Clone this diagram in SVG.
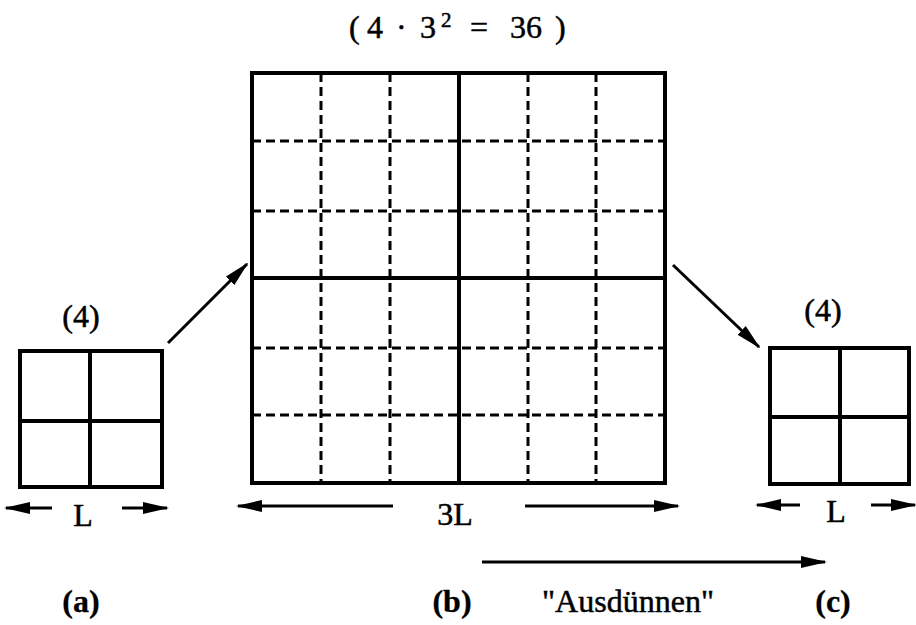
<svg xmlns="http://www.w3.org/2000/svg" width="916" height="625" viewBox="0 0 916 625">
<style>
text{font-family:"Liberation Serif","DejaVu Serif",serif;fill:#000;stroke:#000;stroke-width:0.5}
.lab{font-size:32px;text-anchor:middle}
.bold{font-weight:bold;stroke-width:0.3}
.box{fill:none;stroke:#000;stroke-width:4}
.solid{stroke:#000;stroke-width:4}
.dash{stroke:#000;stroke-width:3;stroke-dasharray:9,5}
.arr{stroke:#000;stroke-width:3;fill:none;marker-end:url(#ah)}
</style>
<defs>
<marker id="ah" viewBox="0 0 26 12" refX="24" refY="6" markerWidth="26" markerHeight="12" orient="auto" markerUnits="userSpaceOnUse">
<path d="M0,0 L26,6 L0,12 z" fill="#000"/>
</marker>
</defs>
<g id="title" font-size="32">
<text x="349" y="38">(</text>
<text x="367" y="38">4</text>
<text x="396" y="38">·</text>
<text x="420" y="38">3</text>
<text x="441" y="27" font-size="21">2</text>
<text x="470" y="38">=</text>
<text x="510" y="38">36</text>
<text x="555" y="38">)</text>
</g>
<g id="a">
<rect class="box" x="20" y="351" width="142" height="136"/>
<line class="solid" x1="90" y1="351" x2="90" y2="487"/>
<line class="solid" x1="20" y1="421" x2="162" y2="421"/>
<text class="lab" x="81" y="327">(4)</text>
<text class="lab" x="83" y="526">L</text>
<line class="arr" x1="52" y1="508" x2="6" y2="508"/>
<line class="arr" x1="122" y1="508" x2="167" y2="508"/>
</g>
<g id="b">
<line class="dash" x1="321" y1="73" x2="321" y2="483"/>
<line class="dash" x1="390" y1="73" x2="390" y2="483"/>
<line class="dash" x1="528" y1="73" x2="528" y2="483"/>
<line class="dash" x1="596" y1="73" x2="596" y2="483"/>
<line class="dash" x1="252" y1="141" x2="665" y2="141"/>
<line class="dash" x1="252" y1="211" x2="665" y2="211"/>
<line class="dash" x1="252" y1="348" x2="665" y2="348"/>
<line class="dash" x1="252" y1="415" x2="665" y2="415"/>
<rect class="box" x="252" y="73" width="413" height="410"/>
<line class="solid" x1="459" y1="73" x2="459" y2="483"/>
<line class="solid" x1="252" y1="278" x2="665" y2="278"/>
<text class="lab" x="455" y="525">3L</text>
<line class="arr" x1="393" y1="506" x2="238" y2="506"/>
<line class="arr" x1="525" y1="506" x2="678" y2="506"/>
</g>
<g id="c">
<rect class="box" x="770" y="348" width="139" height="136"/>
<line class="solid" x1="840" y1="348" x2="840" y2="484"/>
<line class="solid" x1="770" y1="417" x2="909" y2="417"/>
<text class="lab" x="823" y="321">(4)</text>
<text class="lab" x="836" y="522">L</text>
<line class="arr" x1="800" y1="505" x2="757" y2="505"/>
<line class="arr" x1="871" y1="505" x2="915" y2="505"/>
</g>
<g id="connectors">
<line class="arr" x1="168" y1="343" x2="247" y2="264"/>
<line class="arr" x1="673" y1="265" x2="759" y2="347"/>
<line class="arr" x1="482" y1="562" x2="825" y2="562"/>
</g>
<g id="labels">
<text class="lab bold" x="81" y="612">(a)</text>
<text class="lab bold" x="452" y="612">(b)</text>
<text class="lab" x="628" y="612">"Ausdünnen"</text>
<text class="lab bold" x="833" y="612">(c)</text>
</g>
</svg>
